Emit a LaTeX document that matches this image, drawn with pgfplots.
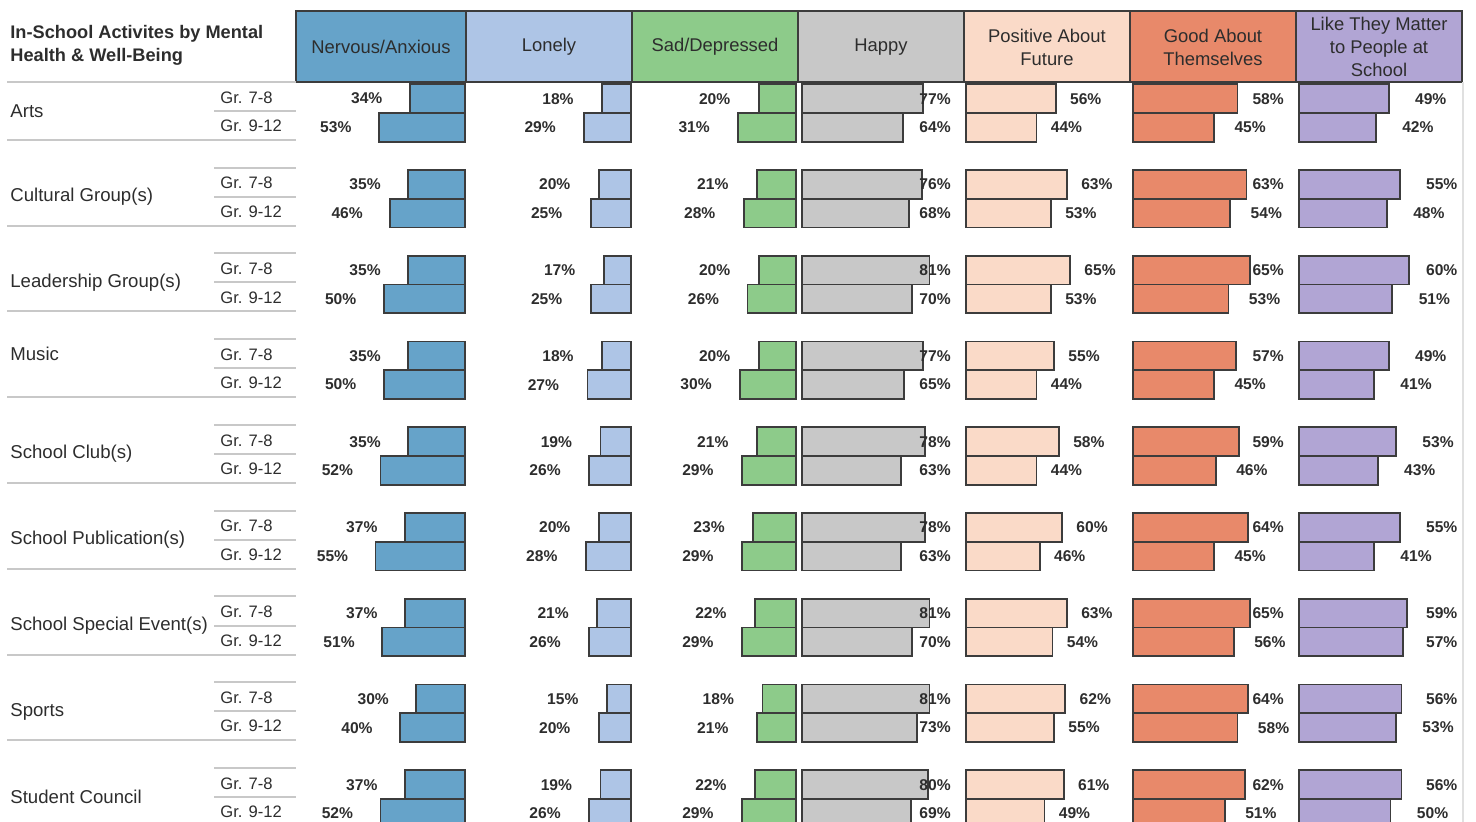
\documentclass[border=0pt]{standalone}
\usepackage{pgfplots}
\pgfplotsset{compat=1.18}
\usepackage{pgfplotstable}
\usepackage{fontspec}
\setmainfont{Liberation Sans}
\definecolor{cNerv}{RGB}{102,163,201}
\definecolor{cLone}{RGB}{174,197,230}
\definecolor{cSad}{RGB}{141,203,138}
\definecolor{cHap}{RGB}{200,200,200}
\definecolor{cPos}{RGB}{250,218,200}
\definecolor{cGood}{RGB}{232,137,106}
\definecolor{cLike}{RGB}{177,165,212}
\definecolor{edge}{RGB}{60,60,60}
\definecolor{txt}{RGB}{45,45,45}
\definecolor{rulec}{RGB}{200,200,200}

\pgfplotstableread{
g nerA nerB lonA lonB sadA sadB hapA hapB posA posB gooA gooB likA likB
0 34 53 18 29 20 31 77 64 56 44 58 45 49 42
1 35 46 20 25 21 28 76 68 63 53 63 54 55 48
2 35 50 17 25 20 26 81 70 65 53 65 53 60 51
3 35 50 18 27 20 30 77 65 55 44 57 45 49 41
4 35 52 19 26 21 29 78 63 58 44 59 46 53 43
5 37 55 20 28 23 29 78 63 60 46 64 45 55 41
6 37 51 21 26 22 29 81 70 63 54 65 56 59 57
7 30 40 15 20 18 21 81 73 62 55 64 58 56 53
8 37 52 19 26 22 29 80 69 61 49 62 51 56 50
}\data

\pgfplotsset{
 panel/.style={anchor=north west, scale only axis, height=370pt, hide axis,
   ymin=-0.3615, ymax=8.268, y dir=reverse, clip=true,
   /pgf/number format/assume math mode=true},
 bars/.style={xbar, bar width=0.335, bar shift=0pt, fill=#1, draw=edge, line width=0.9pt},
 lbl/.style={draw=none, mark=none,
   nodes near coords={\pgfmathprintnumber[assume math mode=true]{\pgfplotspointmeta}\%},
   every node near coord/.append style={anchor=center, font=\bfseries\fontsize{7.8}{9}\selectfont, text=txt, inner sep=0pt}},
}

\newcommand\panel[8]{%
\begin{axis}[panel, at={(#1pt,-41pt)}, width=#2pt, #3]
\addplot[bars=#4] table[x=#5, y expr=\thisrow{g}-0.1675]{\data};
\addplot[bars=#4] table[x=#6, y expr=\thisrow{g}+0.1675]{\data};
\addplot[lbl, point meta=\thisrow{#5}] table[x expr={#7}, y expr=\thisrow{g}-0.1675]{\data};
\addplot[lbl, point meta=\thisrow{#6}] table[x expr={#8}, y expr=\thisrow{g}+0.1675]{\data};
\end{axis}}

\begin{document}
\begin{tikzpicture}
\panel{148}{85}{x dir=reverse, xmin=-0.5, xmax=103.8}{cNerv}{nerA}{nerB}{\thisrow{nerA}+26.4}{\thisrow{nerB}+26.4}
\panel{233}{83}{x dir=reverse, xmin=-0.5, xmax=102}{cLone}{lonA}{lonB}{\thisrow{lonA}+27.2}{\thisrow{lonB}+27.2}
\panel{316}{83}{x dir=reverse, xmin=-1.1, xmax=88.1}{cSad}{sadA}{sadB}{\thisrow{sadA}+23.7}{\thisrow{sadB}+23.7}
\panel{399}{83}{xmin=-2.5, xmax=102.9}{cHap}{hapA}{hapB}{84.5}{84.5}
\panel{482}{83}{xmin=-1.25, xmax=102.5}{cPos}{posA}{posB}{\thisrow{posA}+18.8}{\thisrow{posB}+18.8}
\panel{565}{83}{xmin=-1.7, xmax=90.5}{cGood}{gooA}{gooB}{75}{\thisrow{gooB}+20}
\panel{648}{83}{xmin=-1.6, xmax=89.1}{cLike}{likA}{likB}{min(\thisrow{likA}+23,78)}{min(\thisrow{likB}+23,78)}

\begin{scope}[x=0.5pt,y=-0.5pt]
% title
\node[anchor=west, font=\bfseries\fontsize{9.1}{11.5}\selectfont, align=left, text=txt, inner sep=0pt] at (10,45.5) {In-School Activites by Mental\\Health \& Well-Being};
% header cells
\foreach \l/\r/\c/\t in {296/466/cNerv/{Nervous/Anxious}, 466/632/cLone/Lonely, 632/798/cSad/{Sad/Depressed}, 798/964/cHap/Happy, 964/1130/cPos/{Positive About\\Future}, 1130/1296/cGood/{Good About\\Themselves}, 1296/1462/cLike/{Like They Matter\\to People at\\School}}{
  \draw[fill=\c, draw=edge, line width=0.9pt] (\l,11) rectangle (\r,82);
  \node[align=center, font=\fontsize{9.2}{11.5}\selectfont, text=txt, inner sep=0pt] at ({(\l+\r)/2},47) {\t};
}
% rules
\draw[rulec, line width=1pt] (7,82) -- (296,82);
\foreach \i in {0,...,8}{
  \draw[rulec, line width=1pt] (7,{140+85.75*\i}) -- (296,{140+85.75*\i});
  \draw[rulec, line width=1pt] (214,{111+85.75*\i}) -- (296,{111+85.75*\i});
  \node[anchor=west, font=\fontsize{8.3}{10}\selectfont, text=txt, inner sep=0pt] at (220,{97.5+85.75*\i}) {Gr. 7-8};
  \node[anchor=west, font=\fontsize{8.3}{10}\selectfont, text=txt, inner sep=0pt] at (220,{126+85.75*\i}) {Gr. 9-12};
}
\foreach \i in {1,...,8}{
  \draw[rulec, line width=1pt] (214,{82+85.75*\i}) -- (296,{82+85.75*\i});
}
\draw[black!12, line width=1pt] (1463,82) -- (1463,822);
% category names
\foreach \n/\y in {Arts/111, {Cultural Group(s)}/197, {Leadership Group(s)}/283, Music/354, {School Club(s)}/454, {School Publication(s)}/540, {School Special Event(s)}/626, Sports/712, {Student Council}/797}{
  \node[anchor=west, font=\fontsize{9.3}{11}\selectfont, text=txt, inner sep=0pt] at (10,\y) {\n};
}
\pgfresetboundingbox
\path[use as bounding box] (0,0) rectangle (1476,822);
\end{scope}
\end{tikzpicture}
\end{document}
